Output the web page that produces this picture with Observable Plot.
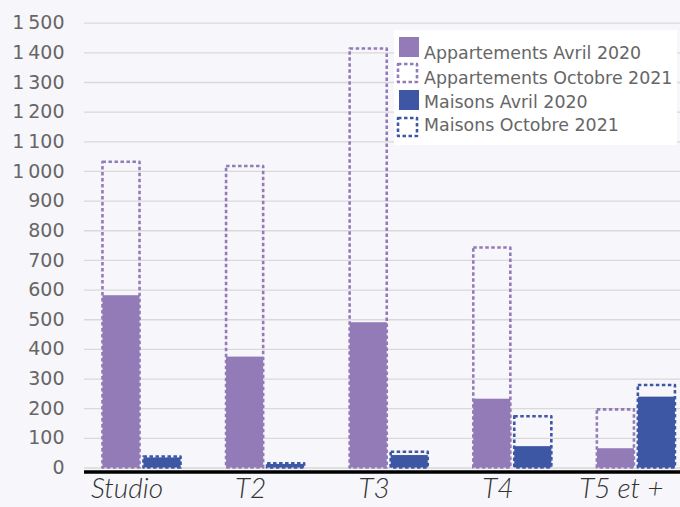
<!DOCTYPE html>
<html>
<head>
<meta charset="utf-8">
<script src="https://cdn.jsdelivr.net/npm/d3@7"></script>
<script src="https://cdn.jsdelivr.net/npm/@observablehq/plot@0.6"></script>
<style>
  html, body { margin: 0; padding: 0; background: #f7f7fb; }
  #wrap { position: relative; width: 680px; height: 507px; background: #f7f7fb; overflow: hidden; }
  #legend { position: absolute; left: 0; top: 0; }
  g[aria-label="x-axis tick label"] { font-family: Lato, "Open Sans", sans-serif; font-style: italic; font-weight: 300; }
</style>
</head>
<body>
<div id="wrap"></div>
<script>
// ---- Data ----
const categories = ["Studio", "T2", "T3", "T4", "T5 et +"];
const appartAvril2020 = [581, 374, 490, 232, 65];
const appartOctobre2021 = [1031, 1017, 1413, 742, 196];
const maisonsAvril2020 = [34, 12, 42, 72, 239];
const maisonsOctobre2021 = [37, 14, 53, 173, 278];
const yTicks = [0, 100, 200, 300, 400, 500, 600, 700, 800, 900, 1000, 1100, 1200, 1300, 1400, 1500];
const seriesNames = ["Appartements Avril 2020", "Appartements Octobre 2021", "Maisons Avril 2020", "Maisons Octobre 2021"];

const purple = "#937bb8";
const blue = "#3e57a5";

const rows = (vals) => categories.map((c, i) => ({cat: c, v: vals[i]}));
const fmt = d => d >= 1000 ? Math.floor(d / 1000) + "\u202F" + String(d % 1000).padStart(3, "0") : String(d);

const chart = Plot.plot({
  width: 680,
  height: 507,
  marginLeft: 84,
  marginRight: 0,
  marginTop: 22.7,
  marginBottom: 39.5,
  style: {background: "#f7f7fb", fontFamily: "'DejaVu Sans', sans-serif", color: "#666666", overflow: "visible"},
  x: {type: "band", domain: categories, range: [79.7, 697.7], paddingInner: 0.7, paddingOuter: 0.35, round: false},
  y: {domain: [0, 1500]},
  marks: [
    Plot.ruleY(yTicks, {stroke: "#d9d9d9", strokeWidth: 1.3}),
    Plot.barY(rows(appartAvril2020), {x: "cat", y: "v", fill: purple, dx: -20.5}),
    Plot.barY(rows(appartOctobre2021), {x: "cat", y: "v", fill: "none", stroke: purple, strokeWidth: 2.6, strokeDasharray: "3.5,2.5", strokeLinejoin: "round", dx: -20.5}),
    Plot.barY(rows(maisonsAvril2020), {x: "cat", y: "v", fill: blue, dx: 20.5}),
    Plot.barY(rows(maisonsOctobre2021), {x: "cat", y: "v", fill: "none", stroke: blue, strokeWidth: 2.6, strokeDasharray: "3.5,2.5", strokeLinejoin: "round", dx: 20.5}),
    Plot.ruleY([0], {stroke: "#000", strokeWidth: 3.6, dy: 4}),
    Plot.axisY({ticks: yTicks, tickSize: 0, tickPadding: 20, tickFormat: fmt, fontSize: 19, label: null}),
    Plot.axisX({tickSize: 0, tickPadding: 10, fontSize: 28, dx: -15, fill: "#333", label: null})
  ]
});

const wrap = document.getElementById("wrap");
wrap.appendChild(chart);

// ---- Legend (overlay) ----
const ns = "http://www.w3.org/2000/svg";
const leg = document.createElementNS(ns, "svg");
leg.setAttribute("id", "legend");
leg.setAttribute("width", 680);
leg.setAttribute("height", 507);
const legendItems = [
  {name: seriesNames[0], color: purple, dotted: false, sy: 37, ty: 59},
  {name: seriesNames[1], color: purple, dotted: true, sy: 64, ty: 84},
  {name: seriesNames[2], color: blue, dotted: false, sy: 90, ty: 108},
  {name: seriesNames[3], color: blue, dotted: true, sy: 118, ty: 131}
];
const bg = document.createElementNS(ns, "rect");
bg.setAttribute("x", 394); bg.setAttribute("y", 30);
bg.setAttribute("width", 283); bg.setAttribute("height", 115);
bg.setAttribute("fill", "#ffffff");
leg.appendChild(bg);
for (const it of legendItems) {
  const r = document.createElementNS(ns, "rect");
  if (it.dotted) {
    r.setAttribute("x", 398); r.setAttribute("y", it.sy);
    r.setAttribute("width", 19); r.setAttribute("height", 18);
    r.setAttribute("fill", "none");
    r.setAttribute("stroke", it.color);
    r.setAttribute("stroke-width", 2.6);
    r.setAttribute("stroke-dasharray", "3.5,2.5");
    r.setAttribute("stroke-linejoin", "round");
  } else {
    r.setAttribute("x", 399); r.setAttribute("y", it.sy);
    r.setAttribute("width", 20); r.setAttribute("height", 20);
    r.setAttribute("fill", it.color);
  }
  leg.appendChild(r);
  const t = document.createElementNS(ns, "text");
  t.setAttribute("x", 424); t.setAttribute("y", it.ty);
  t.setAttribute("font-family", "'DejaVu Sans', sans-serif");
  t.setAttribute("font-size", 17.4);
  t.setAttribute("fill", "#666666");
  t.textContent = it.name;
  leg.appendChild(t);
}
wrap.appendChild(leg);
</script>
</body>
</html>
